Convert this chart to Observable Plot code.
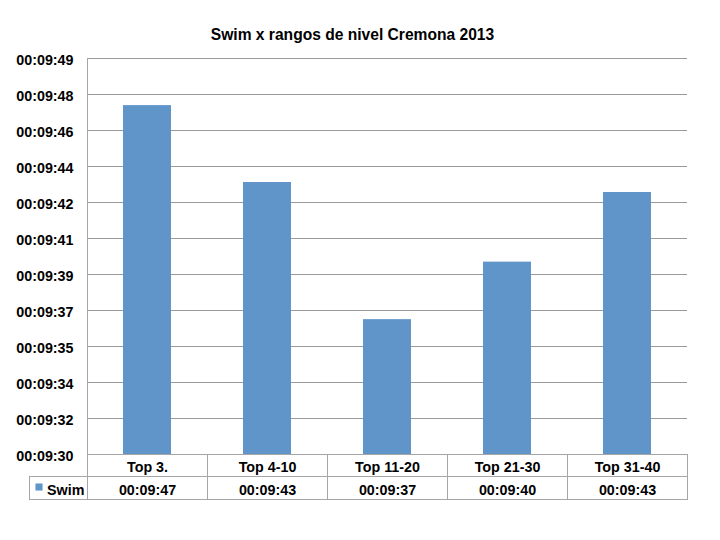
<!DOCTYPE html>
<html><head><meta charset="utf-8">
<script src="https://cdn.jsdelivr.net/npm/d3@7"></script>
<script src="https://cdn.jsdelivr.net/npm/@observablehq/plot@0.6"></script>
<style>body{margin:0;background:#fff}</style>
</head><body><div id="chart"></div>
<script>
const title = "Swim x rangos de nivel Cremona 2013";
const seriesName = "Swim";
const categories = ["Top 3.", "Top 4-10", "Top 11-20", "Top 21-30", "Top 31-40"];
// seconds after 00:09:00
const swimSeconds = [47.04, 43.35, 36.77, 39.53, 42.87];
const tableLabels = ["00:09:47", "00:09:43", "00:09:37", "00:09:40", "00:09:43"];
const tickLabels = ["00:09:30","00:09:32","00:09:34","00:09:35","00:09:37","00:09:39","00:09:41","00:09:42","00:09:44","00:09:46","00:09:48","00:09:49"];
const yMin = 30.3, yMax = 49.3;

const data = categories.map((c, i) => ({cat: c, v: swimSeconds[i], label: tableLabels[i]}));
const tickValues = tickLabels.map((_, k) => yMin + k * (yMax - yMin) / (tickLabels.length - 1));

const W = 720, H = 540, mt = 58, mb = 86, ml = 87, mr = 33;
const frameH = H - mt - mb;
const barColor = "#5F95C9";
const gridColor = "#9a9a9a";
const borderColor = "#a6a6a6";
const font = "'Liberation Sans', Arial, sans-serif";
const fs = 14.3;

const chart = Plot.plot({
  width: W, height: H,
  marginTop: mt, marginBottom: mb, marginLeft: ml, marginRight: mr,
  style: {fontFamily: font, fontSize: "13px", background: "#fff", color: "#000"},
  x: {type: "band", domain: categories, paddingInner: 0.6, paddingOuter: 0.3, axis: null},
  y: {domain: [yMin, yMax], axis: null},
  marks: [
    Plot.ruleY(tickValues, {stroke: gridColor, strokeWidth: 1}),
    Plot.barY(data, {x: "cat", y1: yMin, y2: "v", fill: barColor}),
    Plot.axisY(tickValues, {label: null, tickSize: 0, tickPadding: 14, dy: 2, tickFormat: (d, i) => tickLabels[i], fontWeight: "bold", fontSize: fs, fill: "#000"}),
    // left axis line extending into the table
    Plot.ruleX([categories[0]], {x: d => d, dx: -60, insetBottom: -45, stroke: borderColor}),
    // table column dividers
    Plot.ruleX(categories.slice(1), {x: d => d, dx: -60, insetTop: frameH, insetBottom: -45, stroke: borderColor}),
    // table rows
    Plot.frame({insetTop: frameH, insetBottom: -22, stroke: borderColor}),
    Plot.frame({insetTop: frameH + 22, insetBottom: -45, insetLeft: -58, stroke: borderColor}),
    Plot.text(data, {x: "cat", text: "cat", frameAnchor: "bottom", lineAnchor: "middle", dy: 13, fontWeight: "bold", fontSize: fs}),
    Plot.text(data, {x: "cat", text: "label", frameAnchor: "bottom", lineAnchor: "middle", dy: 36, fontWeight: "bold", fontSize: fs}),
    Plot.dot([seriesName], {frameAnchor: "bottom-left", dx: -48.5, dy: 32.5, symbol: "square", r: 4, fill: barColor}),
    Plot.text([seriesName], {text: d => d, frameAnchor: "bottom-left", lineAnchor: "middle", dx: -40.5, dy: 36, textAnchor: "start", fontWeight: "bold", fontSize: fs}),
    Plot.text([title], {text: d => d, frameAnchor: "top", lineAnchor: "middle", dx: -35, dy: -24, fontWeight: "bold", fontSize: 15.6})
  ]
});
document.getElementById("chart").appendChild(chart);
</script>
</body></html>
